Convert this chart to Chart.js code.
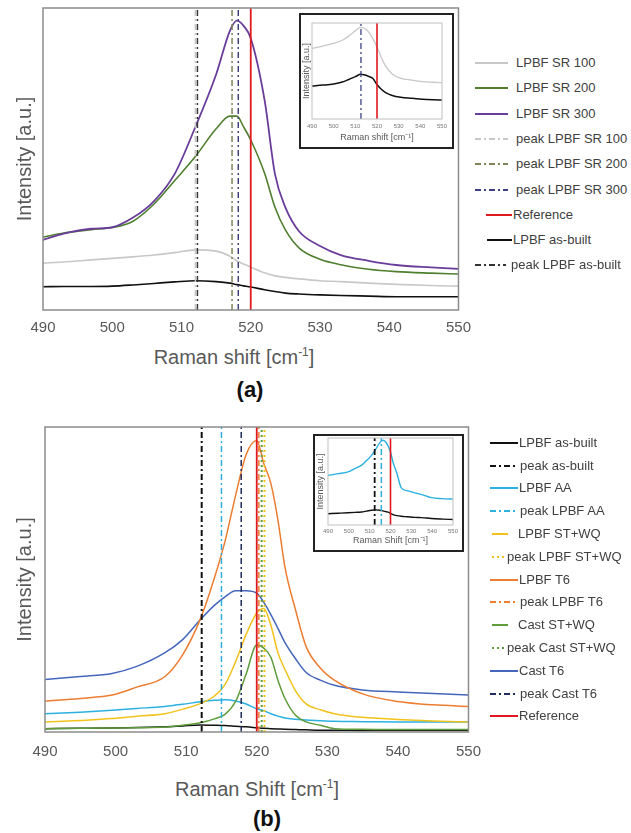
<!DOCTYPE html>
<html>
<head>
<meta charset="utf-8">
<script src="https://cdn.jsdelivr.net/npm/chart.js@4.4.0/dist/chart.umd.min.js"></script>
<style>
  body { margin: 0; width: 631px; height: 833px; position: relative; background: #fff; overflow: hidden;
         font-family: 'Liberation Sans', Arial, sans-serif; }
  .wrap { position: absolute; }
  .inset { position: absolute; border: 2px solid #222; background: #fff; box-sizing: border-box; }
  .inset .wrap { left: 0; top: 0; }
  .xt { position: absolute; color: #595959; font-size: 20px; white-space: nowrap; transform: translate(-50%, -50%); }
  .xt sup { font-size: 12px; }
  .panel { position: absolute; font-size: 22px; font-weight: bold; color: #111; transform: translate(-50%, -50%); }
  .leg { position: absolute; font-size: 13px; line-height: 16px; color: #404040; white-space: nowrap; }
  .lg { position: absolute; overflow: visible; }
</style>
</head>
<body>
<div class="wrap" style="left:0;top:0;width:480px;height:340px"><canvas id="chartA"></canvas></div>
<div class="inset" style="left:299px;top:13px;width:155px;height:136px">
  <div class="wrap" style="width:151px;height:132px"><canvas id="insetA"></canvas></div>
</div>
<div class="xt" style="left:234px;top:357px">Raman shift [cm<sup>-1</sup>]</div>
<div class="panel" style="left:250px;top:390px">(a)</div>

<div class="wrap" style="left:0;top:420px;width:492px;height:345px"><canvas id="chartB"></canvas></div>
<div class="inset" style="left:313px;top:434px;width:151px;height:118px">
  <div class="wrap" style="width:147px;height:114px"><canvas id="insetB"></canvas></div>
</div>
<div class="xt" style="left:257px;top:789px">Raman Shift [cm<sup>-1</sup>]</div>
<div class="panel" style="left:267px;top:819px">(b)</div>

<div id="legendA"></div>
<div id="legendB"></div>

<script>
'use strict';

const FONT = "'Liberation Sans', Arial, sans-serif";

// ---- (a) main spectra ----
const ramanA = [490, 493, 497, 500, 503, 506, 509, 512, 515, 517, 518, 519, 520, 522, 523.5, 525, 527, 530, 533, 537, 541, 546, 550];
const sr100 = [15.5, 15.9, 16.6, 17.1, 17.6, 18.2, 19.0, 19.9, 19.5, 17.8, 16.3, 15.2, 14.2, 12.3, 11.3, 10.8, 10.3, 9.7, 9.4, 8.9, 8.5, 8.1, 7.9];
const sr200 = [24.1, 25.5, 26.6, 27.3, 29.4, 35.0, 42.8, 50.8, 60.0, 64.2, 64.2, 60.5, 56.3, 45.3, 34.0, 26.5, 20.5, 16.8, 15.0, 13.5, 12.7, 12.2, 11.9];
const sr300 = [23.2, 25.3, 26.9, 27.4, 30.6, 36.0, 45.0, 60.6, 78.0, 92.5, 95.8, 94.0, 90.0, 69.5, 45.0, 34.0, 26.0, 21.2, 18.2, 16.3, 14.9, 14.1, 13.6];
const asBuiltA = [7.7, 7.8, 7.8, 7.9, 8.3, 8.8, 9.3, 9.7, 9.4, 8.9, 8.4, 8.0, 7.6, 6.7, 6.1, 5.6, 5.3, 5.0, 4.8, 4.6, 4.4, 4.4, 4.4];
// peak SR 100, SR 200, SR 300, as-built
const peaksA = [512.0, 517.3, 518.2, 512.3];
const referenceShift = 520;

// ---- (a) inset ----
const ramanInsetA = [490, 495, 500, 504, 507, 510, 512.5, 514, 516, 518, 520, 522, 524, 527, 531, 536, 541, 546, 550];
const insetSR100 = [73.6, 76.0, 78.8, 82.0, 86.5, 92.0, 95.5, 94.5, 91.0, 84.0, 75.0, 64.0, 55.0, 47.0, 42.4, 40.5, 39.0, 38.3, 37.8];
const insetAsBuiltA = [34.4, 35.3, 36.5, 38.5, 41.2, 44.1, 46.5, 46.0, 44.5, 42.4, 36.0, 31.0, 27.5, 24.5, 22.6, 21.5, 20.5, 20.0, 19.8];
const insetPeakA = 512.6;

// ---- (b) main spectra ----
const ramanB = [490, 495, 499.5, 503, 507, 509.5, 512, 514, 515.5, 517, 518.5, 520, 521, 522, 523, 524, 525.5, 527, 529, 531, 535, 540, 545, 550];
const asBuiltB = [1.1, 1.2, 1.3, 1.5, 1.7, 2.0, 2.3, 2.2, 2.1, 1.9, 1.7, 1.4, 1.2, 1.1, 1.0, 0.9, 0.8, 0.7, 0.6, 0.6, 0.5, 0.5, 0.5, 0.5];
const lpbfAA = [6.0, 6.5, 7.1, 7.7, 8.4, 9.1, 9.9, 10.4, 10.6, 10.2, 9.2, 7.6, 7.0, 6.0, 5.2, 4.6, 4.2, 3.9, 3.7, 3.5, 3.4, 3.3, 3.3, 3.3];
const lpbfSTWQ = [3.3, 3.8, 4.4, 5.2, 6.0, 7.5, 9.3, 11.8, 15.5, 23.0, 32.0, 39.0, 40.5, 35.0, 26.0, 20.5, 13.5, 9.2, 7.3, 6.0, 4.8, 4.1, 3.6, 3.3];
const lpbfT6 = [10.1, 11.0, 12.1, 14.7, 18.2, 25.3, 37.0, 50.5, 62.5, 77.5, 91.0, 95.6, 88.0, 81.5, 69.5, 54.0, 40.0, 28.0, 21.0, 17.0, 12.5, 10.0, 8.9, 8.4];
const castSTWQ = [1.1, 1.2, 1.3, 1.4, 1.6, 2.2, 3.0, 4.3, 5.8, 10.0, 19.0, 28.5, 27.5, 24.5, 17.0, 11.0, 5.5, 3.3, 2.2, 1.1, 0.9, 0.8, 0.8, 0.8];
const castT6 = [17.2, 18.2, 19.2, 21.5, 26.0, 30.3, 36.8, 41.5, 44.3, 46.3, 46.3, 45.5, 42.5, 38.5, 34.0, 29.3, 24.0, 19.5, 17.0, 15.3, 13.8, 13.1, 12.6, 12.1];
// peak as-built, LPBF AA, LPBF ST+WQ, LPBF T6, Cast ST+WQ, Cast T6
const peaksB = [512.2, 515.0, 521.1, 520.3, 520.7, 517.8];

// ---- (b) inset ----
const ramanInsetB = [490, 495, 499.6, 503, 506, 508.5, 510.8, 513, 514.8, 516.4, 518, 518.8, 520, 521.2, 523, 525.2, 528, 531.6, 535, 539.6, 545, 550];
const insetAA = [57.0, 59.0, 61.1, 65.0, 68.6, 74.0, 79.7, 87.5, 94.4, 97.4, 94.5, 90.8, 84.0, 72.2, 60.0, 42.6, 39.5, 37.0, 35.0, 31.4, 30.3, 29.7];
const insetAsBuiltB = [13.0, 13.5, 14.0, 14.5, 15.0, 16.0, 17.0, 17.4, 17.0, 16.2, 15.2, 14.8, 13.5, 12.0, 10.8, 10.0, 9.5, 8.8, 8.5, 7.5, 6.8, 6.3];
const insetPeaksB = [512.4, 515.6];

const xTicks = [490, 500, 510, 520, 530, 540, 550];

const DASHDOT = [6, 3, 2, 3];
const DOTS = [2, 3];

function pts(xs, ys) {
  return xs.map((x, i) => ({ x, y: ys[i] }));
}

function vline(x) {
  return [{ x, y: 0 }, { x, y: 100 }];
}

// spectra get a monotone curve, the vertical marker lines stay straight
function curve(data, color, width) {
  return { data, borderColor: color, borderWidth: width, borderDash: [], cubicInterpolationMode: 'monotone' };
}

function peak(x, color, width, dash) {
  return { data: vline(x), borderColor: color, borderWidth: width, borderDash: dash };
}

const framePlugin = {
  id: 'frame',
  afterDatasetsDraw(chart, args, opts) {
    const { ctx, chartArea: a } = chart;
    ctx.save();
    ctx.strokeStyle = opts.color;
    ctx.lineWidth = opts.width;
    ctx.strokeRect(a.left, a.top, a.right - a.left, a.bottom - a.top);
    ctx.restore();
  }
};

function makeChart(id, datasets, o) {
  return new Chart(document.getElementById(id), {
    type: 'line',
    data: { datasets },
    options: {
      responsive: true,
      maintainAspectRatio: false,
      animation: false,
      layout: { padding: o.pad },
      elements: { point: { radius: 0 }, line: { tension: 0 } },
      plugins: {
        legend: { display: false },
        tooltip: { enabled: false },
        frame: { color: o.frameColor, width: o.frameWidth },
      },
      scales: {
        x: {
          type: 'linear', min: 490, max: 550,
          grid: { display: false, drawTicks: false },
          border: { display: false },
          afterBuildTicks: s => { s.ticks = xTicks.map(v => ({ value: v })); },
          ticks: { color: o.tickColor, padding: o.tickPad, maxRotation: 0, autoSkip: false,
                   font: { family: FONT, size: o.tickSize } },
          title: o.xTitle
            ? { display: true, text: o.xTitle, color: '#595959', padding: { top: 0, bottom: o.xTitlePad },
                font: { family: FONT, size: o.titleSize } }
            : { display: false },
          afterFit: s => { s.height = o.xH; },
        },
        y: {
          min: 0, max: 100,
          grid: { display: false, drawTicks: false },
          border: { display: false },
          ticks: { display: false },
          title: { display: true, text: 'Intensity [a.u.]', color: '#595959', padding: { top: o.yTitlePad, bottom: 0 },
                   font: { family: FONT, size: o.titleSize } },
          afterFit: s => { s.width = o.yW; },
        },
      },
    },
    plugins: [framePlugin],
  });
}

// ---- colours ----
const C = {
  sr100: '#c8c8c8', sr200: '#4f7f2f', sr300: '#6a3d9a',
  pk200: '#82825a', pk300: '#3e4080', red: '#e0191e', black: '#111111', pkBlack: '#333333',
  aa: '#2bb0e0', stwq: '#f2c21b', t6: '#ed7d31', cstwq: '#5e9c3c', ct6: '#4466bb', pkCt6: '#1f2d5c',
};

// ---- (a) ----
makeChart('chartA', [
  peak(referenceShift, C.red, 1.8, []),
  peak(peaksA[0], C.sr100, 1.5, DASHDOT),
  peak(peaksA[1], C.pk200, 1.5, DASHDOT),
  peak(peaksA[2], C.pk300, 1.5, DASHDOT),
  peak(peaksA[3], C.pkBlack, 1.5, DASHDOT),
  curve(pts(ramanA, sr300), C.sr300, 1.8),
  curve(pts(ramanA, sr200), C.sr200, 1.6),
  curve(pts(ramanA, sr100), C.sr100, 1.6),
  curve(pts(ramanA, asBuiltA), C.black, 1.6),
], { pad: { left: 0, top: 8, right: 17, bottom: 0 }, yW: 43, xH: 30, tickPad: 9, tickSize: 15,
     tickColor: '#595959', titleSize: 20, yTitlePad: 13, frameColor: '#8c8c8c', frameWidth: 1.5 });

makeChart('insetA', [
  peak(referenceShift, C.red, 1.6, []),
  peak(insetPeakA, C.pk300, 1.3, DASHDOT),
  curve(pts(ramanInsetA, insetSR100), C.sr100, 1.3),
  curve(pts(ramanInsetA, insetAsBuiltA), C.black, 1.5),
], { pad: { left: 0, top: 8, right: 10, bottom: 0 }, yW: 11, xH: 28, tickPad: 4, tickSize: 6,
     tickColor: '#777777', titleSize: 9, yTitlePad: 0, xTitle: 'Raman shift [cm\u207B\u00B9]', xTitlePad: 4,
     frameColor: '#c0c0c0', frameWidth: 1 });

// ---- (b) ----
makeChart('chartB', [
  peak(referenceShift, C.red, 1.8, []),
  peak(peaksB[0], C.black, 2, DASHDOT),
  peak(peaksB[1], C.aa, 1.5, DASHDOT),
  peak(peaksB[2], C.stwq, 2, DOTS),
  peak(peaksB[3], C.t6, 1.5, DASHDOT),
  peak(peaksB[4], C.cstwq, 2, DOTS),
  peak(peaksB[5], C.pkCt6, 1.5, DASHDOT),
  curve(pts(ramanB, lpbfT6), C.t6, 1.5),
  curve(pts(ramanB, castT6), C.ct6, 1.5),
  curve(pts(ramanB, lpbfSTWQ), C.stwq, 1.5),
  curve(pts(ramanB, castSTWQ), C.cstwq, 1.5),
  curve(pts(ramanB, lpbfAA), C.aa, 1.5),
  curve(pts(ramanB, asBuiltB), C.black, 1.5),
], { pad: { left: 0, top: 7, right: 15, bottom: 0 }, yW: 45, xH: 33, tickPad: 11, tickSize: 15,
     tickColor: '#595959', titleSize: 20, yTitlePad: 13, frameColor: '#8c8c8c', frameWidth: 1.5 });

makeChart('insetB', [
  peak(referenceShift, C.red, 1.6, []),
  peak(insetPeaksB[0], C.black, 1.8, DASHDOT),
  peak(insetPeaksB[1], C.aa, 1.5, DASHDOT),
  curve(pts(ramanInsetB, insetAA), C.aa, 1.4),
  curve(pts(ramanInsetB, insetAsBuiltB), C.black, 1.4),
], { pad: { left: 0, top: 2, right: 9, bottom: 0 }, yW: 13, xH: 25, tickPad: 3, tickSize: 6,
     tickColor: '#777777', titleSize: 9, yTitlePad: 0, xTitle: 'Raman Shift [cm\u207B\u00B9]', xTitlePad: 4,
     frameColor: '#c0c0c0', frameWidth: 1 });

// ---- legends (HTML, real text) ----
const legendNamesA = ['LPBF SR 100', 'LPBF SR 200', 'LPBF SR 300', 'peak LPBF SR 100', 'peak LPBF SR 200',
                      'peak LPBF SR 300', 'Reference', 'LPBF as-built', 'peak LPBF as-built'];
const legendNamesB = ['LPBF as-built', 'peak as-built', 'LPBF AA', 'peak LPBF AA', 'LPBF ST+WQ', 'peak LPBF ST+WQ',
                      'LPBF T6', 'peak LPBF T6', 'Cast ST+WQ', 'peak Cast ST+WQ', 'Cast T6', 'peak Cast T6', 'Reference'];

// [color, dash, x1, x2, textX]
const legendStyleA = [
  [C.sr100, [], 475, 508, 516], [C.sr200, [], 475, 508, 516], [C.sr300, [], 475, 508, 516],
  [C.sr100, DASHDOT, 475, 508, 516], [C.pk200, DASHDOT, 475, 508, 516], [C.pk300, DASHDOT, 475, 508, 516],
  [C.red, [], 486, 512, 513], [C.black, [], 487, 512, 513], [C.pkBlack, DASHDOT, 475, 506, 511],
];
const legendStyleB = [
  [C.black, [], 490, 518, 519], [C.black, DASHDOT, 490, 517, 520],
  [C.aa, [], 490, 518, 519], [C.aa, DASHDOT, 490, 517, 520],
  [C.stwq, [], 492, 508, 518], [C.stwq, DOTS, 492, 505, 507],
  [C.t6, [], 490, 518, 519], [C.t6, DASHDOT, 490, 517, 520],
  [C.cstwq, [], 492, 508, 518], [C.cstwq, DOTS, 492, 505, 507],
  [C.ct6, [], 490, 518, 519], [C.pkCt6, DASHDOT, 490, 517, 520],
  [C.red, [], 490, 518, 519],
];

function buildLegend(elId, names, styles, y0, step) {
  const el = document.getElementById(elId);
  el.innerHTML = names.map((name, i) => {
    const [color, dash, x1, x2, tx] = styles[i];
    const y = y0 + i * step;
    const w = x2 - x1;
    const da = dash.length ? ` stroke-dasharray="${dash.join(' ')}"` : '';
    return `<svg class="lg" style="left:${x1}px;top:${y - 4}px" width="${w}" height="8">` +
           `<line x1="0" y1="4" x2="${w}" y2="4" stroke="${color}" stroke-width="2"${da}/></svg>` +
           `<div class="leg" style="left:${tx}px;top:${y - 8}px">${name}</div>`;
  }).join('');
}

buildLegend('legendA', legendNamesA, legendStyleA, 63, 25.3);
buildLegend('legendB', legendNamesB, legendStyleB, 442.7, 22.8);
</script>
</body>
</html>
